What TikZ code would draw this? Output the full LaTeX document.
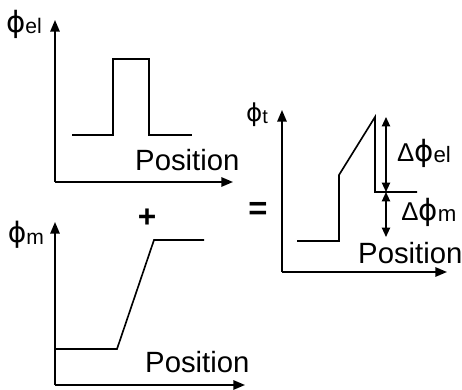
\documentclass[tikz,border=0pt]{standalone}
\usepackage{fontspec}
\setmainfont{Liberation Sans}
\newfontfamily\phifont{DejaVu Sans}
\usetikzlibrary{arrows.meta}

% phi glyph with a lowered subscript: #1 phi size, #2 sub size, #3 sub text
\newcommand\phisub[3]{{\phifont\fontsize{#1}{#1}\selectfont ϕ}\raisebox{-0.3ex}{\fontsize{#2}{#2}\selectfont #3}}

\begin{document}
\begin{tikzpicture}[x=0.03cm,y=-0.03cm,
  axis/.style={line width=1.7pt,-{Triangle[length=10pt,width=8pt]}},
  curve/.style={line width=1.4pt,line join=miter},
  gap/.style={line width=1.4pt,{Triangle[length=8pt,width=7pt]}-{Triangle[length=8pt,width=7pt]}},
  poslbl/.style={anchor=base west,inner sep=0pt,font=\fontsize{25}{30}\selectfont},
  lbl/.style={inner sep=0pt},
  op/.style={inner sep=0pt,font=\bfseries}]

  \useasboundingbox (0,0) rectangle (462,390);

  % axes: origin, top of y axis, end of x axis
  \coordinate (oA) at (55,182); \coordinate (yA) at (55,20);  \coordinate (xA) at (233,182);
  \coordinate (oB) at (55,385); \coordinate (yB) at (55,222); \coordinate (xB) at (245,385);
  \coordinate (oC) at (282,272); \coordinate (yC) at (282,110); \coordinate (xC) at (447,272);
  \draw[axis] (oA) -- (xA);  \draw[axis] (oA) -- (yA);
  \draw[axis] (oB) -- (xB);  \draw[axis] (oB) -- (yB);
  \draw[axis] (oC) -- (xC);  \draw[axis] (oC) -- (yC);

  % phi_el : rectangular pulse
  \draw[curve] (72,135) -- (113,135) -- (113,59) -- (149,59) -- (149,135) -- (192,135);
  % phi_m : ramp
  \draw[curve] (55,349) -- (117,349) -- (154,240) -- (204,240);
  % phi_t : sum
  \draw[curve] (297,241) -- (339,241) -- (339,175) -- (375,117) -- (375,192) -- (417,192);

  % jumps
  \coordinate (jtop) at (386,117); \coordinate (jmid) at (386,192); \coordinate (jbot) at (386,237);
  \draw[gap] (jtop) -- (jmid);
  \draw[gap] (jmid) -- (jbot);

  % labels
  \node[lbl] (phiel) at (24,24)  {\phisub{25}{18}{el}};
  \node[lbl] (phim)  at (26,235) {\phisub{24}{18}{m}};
  \node[lbl] (phit)  at (257,115) {\phisub{21}{17}{t}};
  \node[lbl] (dphiel) at (424,153) {{\fontsize{22}{22}\selectfont Δ}\phisub{25}{19}{el}};
  \node[lbl] (dphim)  at (429,212) {{\fontsize{22}{22}\selectfont Δ}\phisub{25}{19}{m}};
  \node[poslbl] (posA) at (135,170) {Position};
  \node[poslbl] (posB) at (145,372) {Position};
  \node[poslbl] (posC) at (358,263) {Position};
  \node[op,font=\bfseries\fontsize{27}{27}\selectfont] (plus)   at (147,218) {+};
  \node[op,font=\bfseries\fontsize{28}{28}\selectfont] (equals) at (258,211) {=};
\end{tikzpicture}
\end{document}
